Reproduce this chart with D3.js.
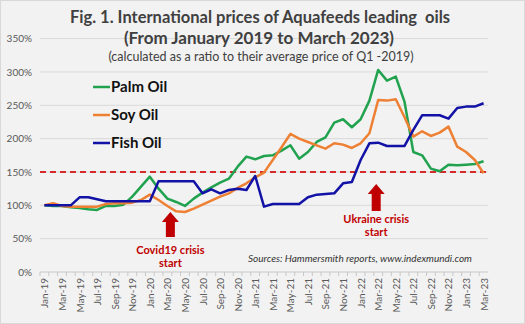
<!DOCTYPE html>
<html>
<head>
<meta charset="utf-8">
<script src="https://cdn.jsdelivr.net/npm/d3@7"></script>
<style>
  body { margin: 0; background: #fff; }
  svg { display: block; font-family: Lato, "Open Sans", sans-serif; }
</style>
</head>
<body>
<svg id="chart"></svg>
<script>
// Months Jan-19 .. Mar-23
var months = [];
var monthNames = ["Jan", "Feb", "Mar", "Apr", "May", "Jun", "Jul", "Aug", "Sep", "Oct", "Nov", "Dec"];
for (var yr = 19; yr <= 23; yr++) {
  for (var m = 0; m < 12; m++) {
    if (yr === 23 && m > 2) break;
    months.push(monthNames[m] + "-" + yr);
  }
}

// ratio to Q1-2019 average price, in %
var palmOil = [100, 99, 99, 97, 96, 94, 93, 99, 99, 101, 113, 128, 143, 125, 110, 105, 99, 110, 119, 127, 134, 140,
  158, 173, 169, 174, 175, 182, 190, 170, 180, 195, 202, 224, 229, 217, 229, 257, 303, 287, 293, 255,
  180, 175, 155, 151, 161, 160, 161, 162, 166];
var soyOil = [100, 103, 99, 98, 98, 98, 98, 102, 103, 103, 104, 108, 116, 108, 99, 91, 90, 95, 101, 107, 113, 118,
  126, 133, 142, 149, 168, 187, 207, 200, 195, 190, 185, 193, 191, 186, 193, 208, 258, 257, 259, 232,
  203, 211, 204, 209, 218, 188, 180, 168, 148];
var fishOil = [100, 100, 100, 100, 112, 112, 109, 106, 106, 106, 106, 106, 106, 136, 136, 136, 136, 136, 118, 124, 118, 123,
  125, 123, 144, 98, 102, 102, 102, 102, 112, 116, 117, 118, 133, 135, 168, 193, 194, 189, 189, 189,
  213, 235, 235, 235, 230, 246, 248, 248, 253];

var yTicks = [0, 50, 100, 150, 200, 250, 300, 350];
var xLabels = months.filter(function(d, i) { return i % 2 === 0; });
var threshold = 150;

var series = [
  { name: "Palm Oil", values: palmOil, color: "#21a24f" },
  { name: "Soy Oil", values: soyOil, color: "#ee8034" },
  { name: "Fish Oil", values: fishOil, color: "#1212a6" }
];

var notes = [
  { month: "Mar-20", lines: ["Covid19 crisis", "start"] },
  { month: "Mar-22", lines: ["Ukraine crisis", "start"] }
];

var W = 525, H = 324;
var plot = { left: 40, right: 488, top: 38.6, bottom: 272 };

var svg = d3.select("#chart")
  .attr("width", W)
  .attr("height", H);

svg.append("rect")
  .attr("x", 0.5).attr("y", 0.5)
  .attr("width", W - 1).attr("height", H - 1)
  .attr("fill", "#f2f2f2")
  .attr("stroke", "#d9d9d9");

// scales
var x = d3.scalePoint()
  .domain(months)
  .range([plot.left, plot.right])
  .padding(0.5);

var y = d3.scaleLinear()
  .domain([0, 350])
  .range([plot.bottom, plot.top]);

// gridlines
svg.append("g")
  .selectAll("line")
  .data(yTicks)
  .enter().append("line")
  .attr("x1", plot.left)
  .attr("x2", plot.right)
  .attr("y1", function(d) { return y(d); })
  .attr("y2", function(d) { return y(d); })
  .attr("stroke", function(d) { return d === 0 ? "#c8c8c8" : "#d9d9d9"; })
  .attr("stroke-width", 1);

// y axis labels
var yAxis = d3.axisLeft(y)
  .tickValues(yTicks)
  .tickSize(0)
  .tickPadding(7)
  .tickFormat(function(d) { return d + "%"; });

svg.append("g")
  .attr("transform", "translate(" + (plot.left - 1) + ",0)")
  .call(yAxis)
  .call(function(g) { g.select(".domain").remove(); })
  .selectAll("text")
  .attr("fill", "#595959")
  .style("font-size", "10px")
  .style("font-family", "Lato, sans-serif");

// x axis tick marks between months
var step = x.step();
svg.append("g")
  .selectAll("line")
  .data(months)
  .enter().append("line")
  .attr("x1", function(d) { return x(d) - step / 2; })
  .attr("x2", function(d) { return x(d) - step / 2; })
  .attr("y1", plot.bottom)
  .attr("y2", plot.bottom + 4)
  .attr("stroke", "#c8c8c8");

// x axis labels
var xAxis = d3.axisBottom(x)
  .tickValues(xLabels)
  .tickSize(0)
  .tickPadding(0);

svg.append("g")
  .attr("transform", "translate(0," + plot.bottom + ")")
  .call(xAxis)
  .call(function(g) { g.select(".domain").remove(); })
  .selectAll("text")
  .attr("fill", "#595959")
  .style("font-size", "10px")
  .style("font-family", "Lato, sans-serif")
  .style("text-anchor", "end")
  .attr("transform", "rotate(-90)")
  .attr("x", -6)
  .attr("y", 0)
  .attr("dy", "0.35em");

// threshold dashed line
svg.append("line")
  .attr("x1", plot.left)
  .attr("x2", plot.right + 2)
  .attr("y1", y(threshold))
  .attr("y2", y(threshold))
  .attr("stroke", "#d42a2a")
  .attr("stroke-width", 2)
  .attr("stroke-dasharray", "6,4");

// lines
var line = d3.line()
  .x(function(d, i) { return x(months[i]); })
  .y(function(d) { return y(d); });

svg.append("g")
  .selectAll("path")
  .data(series)
  .enter().append("path")
  .attr("d", function(d) { return line(d.values); })
  .attr("fill", "none")
  .attr("stroke", function(d) { return d.color; })
  .attr("stroke-width", 2.5)
  .attr("stroke-linejoin", "round");

// legend
var legend = svg.selectAll(".legend")
  .data(series)
  .enter().append("g")
  .attr("class", "legend")
  .attr("transform", function(d, i) { return "translate(93," + (87 + i * 28) + ")"; });

legend.append("line")
  .attr("x1", 0).attr("x2", 17)
  .attr("y1", 0).attr("y2", 0)
  .attr("stroke", function(d) { return d.color; })
  .attr("stroke-width", 2.5);

legend.append("text")
  .attr("x", 18)
  .attr("y", 0)
  .attr("dy", "0.36em")
  .attr("fill", "#111")
  .style("font-size", "15px")
  .style("font-weight", "bold")
  .text(function(d) { return d.name; });

// crisis arrows and notes
var note = svg.selectAll(".note")
  .data(notes)
  .enter().append("g")
  .attr("class", "note")
  .attr("transform", function(d, i) {
    var tipY = i === 0 ? 212 : 184;
    var dx = i === 0 ? 3 : -2;
    return "translate(" + (x(d.month) + dx) + "," + tipY + ")";
  });

note.append("path")
  .attr("d", function(d, i) {
    var len = i === 0 ? 25 : 27;
    return "M0,0 L8.5,10 L4.5,10 L4.5," + len + " L-4.5," + len + " L-4.5,10 L-8.5,10 Z";
  })
  .attr("fill", "#c00000");

note.each(function(d, i) {
  var g = d3.select(this);
  var base = i === 0 ? 42 : 39;
  d.lines.forEach(function(t, k) {
    g.append("text")
      .attr("x", 0)
      .attr("y", base + k * 13)
      .attr("text-anchor", "middle")
      .attr("fill", "#c00000")
      .style("font-size", "11px")
      .style("font-weight", "bold")
      .text(t);
  });
});

// source
svg.append("text")
  .attr("x", 472)
  .attr("y", 262)
  .attr("text-anchor", "end")
  .attr("fill", "#333")
  .style("font-size", "10px")
  .style("font-style", "italic")
  .text("Sources: Hammersmith reports, www.indexmundi.com");

// titles
svg.append("text")
  .attr("x", 260).attr("y", 23)
  .attr("text-anchor", "middle")
  .attr("fill", "#404040")
  .style("font-size", "16.5px")
  .style("font-weight", "bold")
  .style("white-space", "pre")
  .text("Fig. 1. International prices of Aquafeeds leading  oils");

svg.append("text")
  .attr("x", 259).attr("y", 44)
  .attr("text-anchor", "middle")
  .attr("fill", "#404040")
  .style("font-size", "17px")
  .style("font-weight", "bold")
  .text("(From January 2019 to March 2023)");

svg.append("text")
  .attr("x", 261).attr("y", 61)
  .attr("text-anchor", "middle")
  .attr("fill", "#404040")
  .style("font-size", "12.5px")
  .text("(calculated as a ratio to their average price of Q1 -2019)");
</script>
</body>
</html>
